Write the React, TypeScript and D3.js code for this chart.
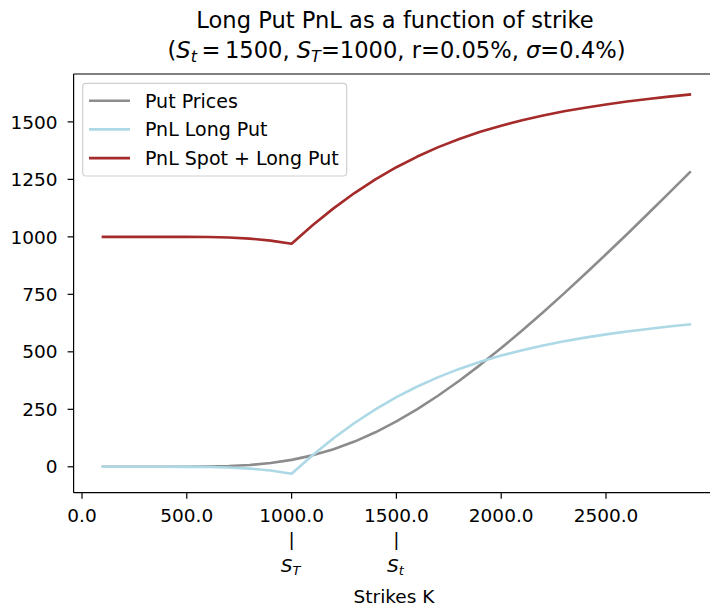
import React from 'react';
import * as d3 from 'd3';

// strikes K and the three curves
const strikes = [100, 200, 300, 400, 500, 600, 700, 800, 900, 1000, 1100, 1200, 1300, 1400, 1500,
  1600, 1700, 1800, 1900, 2000, 2100, 2200, 2300, 2400, 2500, 2600, 2700, 2800, 2900];
const putPrices = [0, 0, 0, 0, 0.2, 0.9, 3.1, 7.8, 16.3, 30.0, 49.7, 76.1, 109.6, 150.0, 197.2,
  250.7, 309.9, 374.3, 443.3, 516.3, 592.7, 672.2, 754.1, 838.3, 924.2, 1011.6, 1100.4, 1190.2, 1280.9];
const pnlLongPut = [0, 0, 0, 0, -0.2, -0.9, -3.1, -7.8, -16.3, -30.0, 50.3, 123.9, 190.5, 250.0, 302.8,
  349.3, 390.1, 425.7, 456.7, 483.7, 507.3, 527.8, 545.9, 561.8, 575.8, 588.4, 599.6, 609.8, 619.1];
const pnlSpotLongPut = [1000, 1000, 1000, 1000, 999.8, 999.1, 996.9, 992.2, 983.7, 970.0, 1050.3, 1123.9,
  1190.5, 1250.0, 1302.8, 1349.3, 1390.1, 1425.7, 1456.7, 1483.7, 1507.3, 1527.8, 1545.9, 1561.8, 1575.8,
  1588.4, 1599.6, 1609.8, 1619.1];

const seriesNames = ['Put Prices', 'PnL Long Put', 'PnL Spot + Long Put'];
const seriesColors = ['#8c8c8c', '#add8e6', '#a52a2a'];
const xTicks = [0, 500, 1000, 1500, 2000, 2500];
const yTicks = [0, 250, 500, 750, 1000, 1250, 1500];

const font = 'DejaVu Sans, sans-serif';

export default function App() {
  const W = 710, H = 608;
  const x = d3.scaleLinear().domain([-40, 3040]).range([73.6, 719.2]);
  const y = d3.scaleLinear().domain([-112.7, 1708.3]).range([492.7, 74]);
  const top = 74, bottom = 492.7, left = 73.6;
  const tickFs = 18.5;

  const allSeries = [putPrices, pnlLongPut, pnlSpotLongPut];
  const line = d3.line<number>()
    .x((_, i) => x(strikes[i]))
    .y((d) => y(d));

  const markers: Record<number, string> = {1000: 'T', 1500: 't'};

  return (
    <svg width={W} height={H} style={{position: 'absolute', left: 0, top: 0, background: '#fff'}}
      fontFamily={font}>
      {/* title */}
      <text x={395} y={28} textAnchor="middle" fontSize={22.6} fill="#000">Long Put PnL as a function of strike</text>
      <text x={396.5} y={57.5} textAnchor="middle" fontSize={22.6} fill="#000">
        (<tspan fontStyle="italic">S</tspan><tspan fontSize={16} dy={4} fontStyle="italic">t</tspan>
        <tspan dy={-4}>{'\u2009=\u20091500, '}</tspan>
        <tspan fontStyle="italic">S</tspan><tspan fontSize={16} dy={4} fontStyle="italic">T</tspan>
        <tspan dy={-4}>=1000, r=0.05%, </tspan>
        <tspan fontStyle="italic">σ</tspan>=0.4%)
      </text>

      {/* lines */}
      <defs>
        <clipPath id="plotArea">
          <rect x={left} y={top} width={x(3040) - left} height={bottom - top} />
        </clipPath>
      </defs>
      <g clipPath="url(#plotArea)">
        {allSeries.map((s, i) => (
          <path key={i} d={line(s) || ''} fill="none" stroke={seriesColors[i]} strokeWidth={2.6}
            strokeLinejoin="round" strokeLinecap="square" />
        ))}
      </g>

      {/* spines */}
      <g stroke="#000" strokeWidth={1.2} fill="none">
        <line x1={left} y1={top} x2={left} y2={bottom} />
        <line x1={left} y1={bottom} x2={W} y2={bottom} />
        <line x1={left} y1={top} x2={W} y2={top} />
      </g>

      {/* y axis */}
      {yTicks.map((t) => (
        <g key={t}>
          <line x1={left - 6} x2={left} y1={y(t)} y2={y(t)} stroke="#000" strokeWidth={1.2} />
          <text x={left - 16} y={y(t)} dy="0.36em" textAnchor="end" fontSize={tickFs} fill="#000">{t}</text>
        </g>
      ))}

      {/* x axis */}
      {xTicks.map((t) => (
        <g key={t}>
          <line x1={x(t)} x2={x(t)} y1={bottom} y2={bottom + 6} stroke="#000" strokeWidth={1.2} />
          <text x={x(t)} y={522} textAnchor="middle" fontSize={tickFs} fill="#000">{t.toFixed(1)}</text>
          {markers[t] && (
            <>
              <text x={x(t)} y={546} textAnchor="middle" fontSize={tickFs} fill="#000">|</text>
              <text x={x(t) - 1} y={572} textAnchor="middle" fontSize={tickFs} fill="#000">
                <tspan fontStyle="italic">S</tspan><tspan fontSize={13} dy={3} fontStyle="italic">{markers[t]}</tspan>
              </text>
            </>
          )}
        </g>
      ))}
      <text x={394} y={602.5} textAnchor="middle" fontSize={tickFs} fill="#000">Strikes K</text>

      {/* legend */}
      <rect x={82.7} y={83.3} width={264} height={92.7} rx={3.5} fill="#fff" fillOpacity={0.8}
        stroke="#d0d0d0" strokeWidth={1.2} />
      {seriesNames.map((name, i) => {
        const ly = 100.7 + i * 28.7;
        return (
          <g key={name}>
            <line x1={89} x2={130} y1={ly} y2={ly} stroke={seriesColors[i]} strokeWidth={2.6} />
            <text x={145} y={ly} dy="0.36em" fontSize={19} fill="#000">{name}</text>
          </g>
        );
      })}
    </svg>
  );
}
